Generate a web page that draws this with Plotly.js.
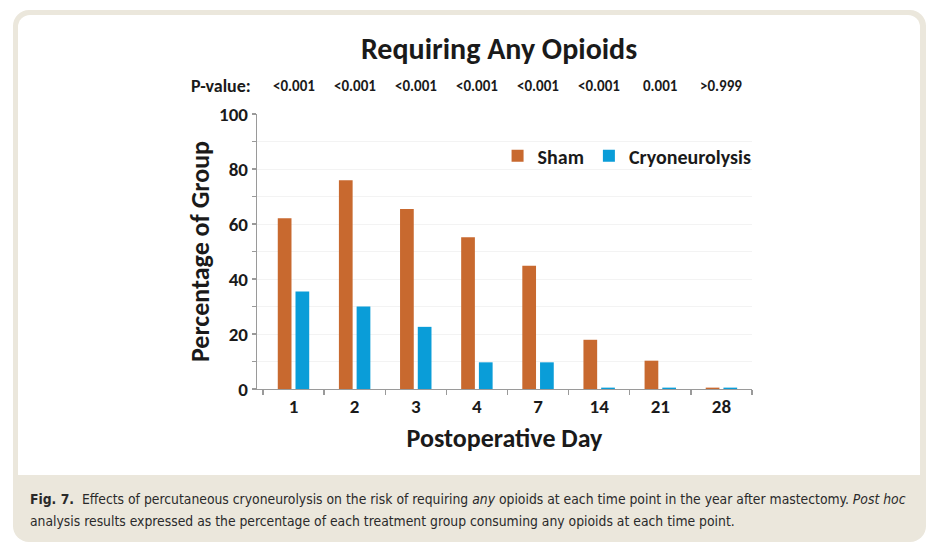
<!DOCTYPE html>
<html>
<head>
<meta charset="utf-8">
<script src="https://cdn.plot.ly/plotly-3.0.1.min.js"></script>
<style>
  html, body { margin:0; padding:0; background:#ffffff; width:940px; height:548px; overflow:hidden; }
  #frame { position:absolute; left:13px; top:10px; width:913px; height:532px; background:#ebe7dc; border-radius:16px; }
  #inner { position:absolute; left:18px; top:15px; width:902px; height:460px; background:#ffffff; border-radius:12px 12px 0 0; }
  #chart { position:absolute; left:0; top:0; width:940px; height:548px; }
</style>
</head>
<body>
<div id="frame"></div>
<div id="inner"></div>
<div id="chart"></div>
<script>
const days = ['1', '2', '3', '4', '7', '14', '21', '28'];
const shamValues = [62.1, 75.9, 65.5, 55.2, 44.8, 17.9, 10.3, 0.5];
const cryoValues = [35.5, 30.0, 22.6, 9.7, 9.7, 0.5, 0.5, 0.5];
const pValues = ['<0.001', '<0.001', '<0.001', '<0.001', '<0.001', '<0.001', '0.001', '>0.999'];
const seriesNames = ['Sham', 'Cryoneurolysis'];

const FONT = 'Carlito, Lato, "Open Sans", sans-serif';
const CAPFONT = '"Liberation Sans Narrow", "DejaVu Sans Condensed", "Arial Narrow", sans-serif';
const TXT = '#1a1a1a';

const traces = [
  { type:'bar', name:seriesNames[0], x:days, y:shamValues, marker:{color:'#c8692f'} },
  { type:'bar', name:seriesNames[1], x:days, y:cryoValues, marker:{color:'#0a9dd8'} }
];

const annotations = [
  { xref:'paper', yref:'paper', x:-0.008, y:1.102, xanchor:'right', yanchor:'middle', showarrow:false,
    text:'P-value:', font:{family:FONT, size:18, color:TXT, weight:'bold'} }
];
days.forEach((d, i) => {
  annotations.push({ xref:'x', yref:'paper', x:i, y:1.102, xanchor:'center', yanchor:'middle', showarrow:false,
    text:pValues[i], font:{family:FONT, size:15, color:TXT, weight:'bold'} });
});
annotations.push({ xref:'paper', yref:'paper', x:-0.4626, y:-0.40, xanchor:'left', yanchor:'middle', showarrow:false,
  text:'<b>Fig. 7.</b>  Effects of percutaneous cryoneurolysis on the risk of requiring <i>any</i> opioids at each time point in the year after mastectomy. <i>Post hoc</i>',
  font:{family:CAPFONT, size:13.8, color:'#2a2a2a'} });
annotations.push({ xref:'paper', yref:'paper', x:-0.4626, y:-0.48, xanchor:'left', yanchor:'middle', showarrow:false,
  text:'analysis results expressed as the percentage of each treatment group consuming any opioids at each time point.',
  font:{family:CAPFONT, size:13.8, color:'#2a2a2a'} });

const layout = {
  width:940, height:548,
  margin:{l:257, r:188, t:114, b:159},
  paper_bgcolor:'rgba(0,0,0,0)', plot_bgcolor:'rgba(0,0,0,0)',
  barmode:'group', bargap:0.42, bargroupgap:0.226,
  title:{ text:'Requiring Any Opioids', x:0.489, xref:'paper', xanchor:'center', y:1-48/548, yref:'container', yanchor:'middle',
    font:{family:FONT, size:30, color:TXT, weight:'bold'} },
  xaxis:{ type:'category', range:[-0.597, 7.5], showline:true, linecolor:'#9a9a9a', linewidth:1.3,
    ticks:'outside', tickson:'boundaries', ticklen:5, tickcolor:'#9a9a9a', tickwidth:1.3,
    tickfont:{family:FONT, size:19, color:TXT, weight:'bold'},
    title:{ text:'Postoperative Day', standoff:11, font:{family:FONT, size:26, color:TXT, weight:'bold'} },
    showgrid:false, fixedrange:true },
  yaxis:{ range:[0, 100], dtick:20, showline:true, linecolor:'#9a9a9a', linewidth:1.3,
    ticks:'outside', ticklen:4, tickcolor:'#9a9a9a', tickwidth:1.3,
    tickfont:{family:FONT, size:19, color:TXT, weight:'bold'},
    showgrid:true, gridcolor:'#f3f3f3', gridwidth:1, zeroline:false,
    minor:{ dtick:10, ticks:'outside', ticklen:4, tickcolor:'#9a9a9a', showgrid:true, gridcolor:'#f3f3f3' },
    title:{ text:'Percentage of Group', standoff:2, font:{family:FONT, size:26, color:TXT, weight:'bold'} },
    fixedrange:true },
  legend:{ orientation:'h', x:0.486, y:0.848, xanchor:'left', yanchor:'middle', bgcolor:'rgba(0,0,0,0)',
    font:{family:FONT, size:20, color:TXT, weight:'bold'}, traceorder:'normal' },
  annotations:annotations
};

Plotly.newPlot('chart', traces, layout, {displayModeBar:false, staticPlot:true});
</script>
</body>
</html>
